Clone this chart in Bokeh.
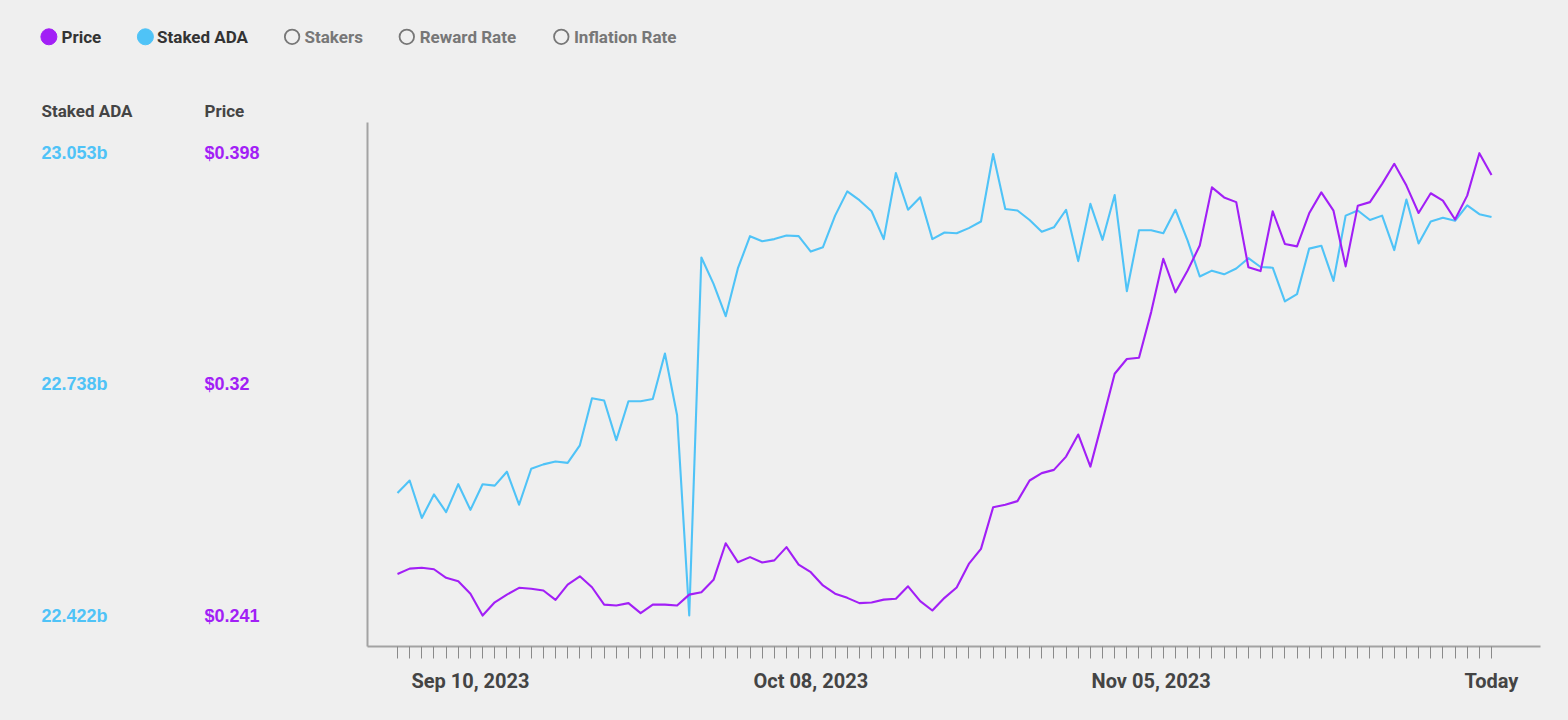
import pandas as pd
from bokeh.plotting import figure
from bokeh.models import Range1d, FixedTicker, Label, LinearAxis
from bokeh.embed import file_html
from bokeh.resources import INLINE

# ---------------- data ----------------
dates = [d.strftime("%Y-%m-%d") for d in pd.date_range("2023-09-04", "2023-12-03", freq="D")]

staked_ada = [  # billions ADA
    22.589, 22.606, 22.555, 22.587, 22.563, 22.601, 22.566, 22.601, 22.599, 22.618,
    22.573, 22.622, 22.628, 22.632, 22.630, 22.654, 22.718, 22.715, 22.661, 22.714,
    22.714, 22.717, 22.779, 22.695, 22.422, 22.910, 22.874, 22.830, 22.895, 22.939,
    22.932, 22.935, 22.940, 22.939, 22.918, 22.924, 22.967, 23.000, 22.988, 22.973,
    22.935, 23.025, 22.975, 22.992, 22.935, 22.944, 22.943, 22.950, 22.959, 23.051,
    22.976, 22.974, 22.961, 22.945, 22.951, 22.975, 22.905, 22.983, 22.934, 22.995,
    22.864, 22.947, 22.947, 22.943, 22.975, 22.933, 22.884, 22.892, 22.887, 22.895,
    22.909, 22.897, 22.896, 22.850, 22.860, 22.922, 22.926, 22.878, 22.967, 22.974,
    22.961, 22.967, 22.920, 22.989, 22.929, 22.959, 22.964, 22.960, 22.981, 22.969,
    22.965,
]

price = [  # USD
    0.2551, 0.2569, 0.2572, 0.2567, 0.2538, 0.2526, 0.2484, 0.2410, 0.2455, 0.2481,
    0.2504, 0.2501, 0.2495, 0.2463, 0.2515, 0.2543, 0.2506, 0.2447, 0.2444, 0.2452,
    0.2418, 0.2447, 0.2447, 0.2444, 0.2481, 0.2489, 0.2531, 0.2655, 0.2591, 0.2608,
    0.2590, 0.2597, 0.2642, 0.2583, 0.2557, 0.2512, 0.2484, 0.2470, 0.2452, 0.2454,
    0.2464, 0.2467, 0.2509, 0.2459, 0.2427, 0.2470, 0.2505, 0.2585, 0.2636, 0.2777,
    0.2786, 0.2798, 0.2868, 0.2893, 0.2904, 0.2949, 0.3024, 0.2915, 0.3071, 0.3230,
    0.3280, 0.3284, 0.3439, 0.3620, 0.3506, 0.3580, 0.3665, 0.3862, 0.3828, 0.3812,
    0.3591, 0.3578, 0.3781, 0.3670, 0.3662, 0.3774, 0.3845, 0.3783, 0.3594, 0.3800,
    0.3812, 0.3874, 0.3942, 0.3868, 0.3775, 0.3842, 0.3817, 0.3753, 0.3834, 0.3978,
    0.3904,
]

x_label_dates = {"2023-09-10": "Sep 10, 2023", "2023-10-08": "Oct 08, 2023",
                 "2023-11-05": "Nov 05, 2023", "2023-12-03": "Today"}

staked_ticks = [22.422, 22.7375, 23.053]
staked_tick_labels = ["22.422b", "22.738b", "23.053b"]
price_ticks = [0.241, 0.3195, 0.398]
price_tick_labels = ["$0.241", "$0.32", "$0.398"]

legend_names = ["Price", "Staked ADA", "Stakers", "Reward Rate", "Inflation Rate"]
legend_active = [True, True, False, False, False]

# ---------------- style / layout ----------------
BG = "#efefef"
PURPLE = "#a21ff6"
BLUE = "#4fc3f7"
AXIS = "#a3a3a3"
DARK = "#333333"
GRAYTXT = "#777777"
legend_colors = [PURPLE, BLUE, None, None, None]

CW, CH = 1568, 720                       # canvas
CH_L, CH_R, CH_T, CH_B = 367, 1540, 122, 646   # chart area in canvas px
X0, X1 = -2.468, 94.03                   # day index at chart left / right
Y0, Y1 = 22.3798, 23.0939                # staked ADA at chart bottom / top
P0, P1 = 0.2305, 0.4082                  # price at chart bottom / top

sx = (X1 - X0) / (CH_R - CH_L)
sy = (Y1 - Y0) / (CH_B - CH_T)
sp = (P1 - P0) / (CH_B - CH_T)

def fx(px):   # canvas x -> data x
    return X0 + (px - CH_L) * sx

def fy(py):   # canvas y -> staked-axis value
    return Y1 - (py - CH_T) * sy

idx = list(range(len(dates)))

p = figure(width=CW, height=CH,
           x_range=Range1d(fx(0), fx(CW)), y_range=Range1d(fy(CH), fy(0)),
           x_axis_type=None, y_axis_type=None,
           output_backend="svg", toolbar_location=None, min_border=0,
           background_fill_color=BG, border_fill_color=BG, outline_line_color=None)
p.extra_y_ranges = {"price": Range1d(P0 - (CH - CH_B) * sp, P1 + CH_T * sp)}

# x axis: a tick every day, four labelled dates
xa = LinearAxis(fixed_location=Y0, bounds=(X0, X1), ticker=FixedTicker(ticks=idx))
xa.major_label_overrides = {i: x_label_dates.get(d, "") for i, d in zip(idx, dates)}
xa.axis_line_color = AXIS
xa.axis_line_width = 2
xa.major_tick_line_color = "#8a8a8a"
xa.major_tick_line_width = 1
xa.major_tick_in = 0
xa.major_tick_out = 12
xa.minor_tick_line_color = None
xa.major_label_standoff = 10
xa.major_label_text_font = "Roboto"
xa.major_label_text_font_style = "bold"
xa.major_label_text_font_size = "20px"
xa.major_label_text_color = "#444444"
p.add_layout(xa, "below")

ya = LinearAxis(fixed_location=X0, bounds=(Y0, Y1), ticker=FixedTicker(ticks=[]))
ya.axis_line_color = AXIS
ya.axis_line_width = 2
ya.major_tick_line_color = None
ya.minor_tick_line_color = None
p.add_layout(ya, "left")

p.line(idx, staked_ada, line_color=BLUE, line_width=2.1, line_join="round")
p.line(idx, price, line_color=PURPLE, line_width=2.1, line_join="round", y_range_name="price")

# legend row
leg_marker_x = [48.4, 144.9, 291.6, 406.3, 560.8]
leg_text_x = [61, 156.6, 304, 419.2, 573.4]
for name, active, col, mx, tx in zip(legend_names, legend_active, legend_colors, leg_marker_x, leg_text_x):
    if active:
        p.scatter([fx(mx)], [fy(36.3)], size=16, fill_color=col, line_color=col, line_width=1)
    else:
        p.scatter([fx(mx)], [fy(36.3)], size=14.5, fill_color=None, line_color=GRAYTXT, line_width=1.8)
    p.add_layout(Label(x=fx(tx), y=fy(36.5), text=name, text_font="Roboto",
                       text_font_style="bold", text_font_size="17px",
                       text_color=DARK if active else GRAYTXT,
                       text_align="left", text_baseline="middle"))

# left-hand value columns
COL1, COL2 = fx(41), fx(204)
for txt, cx in (("Staked ADA", COL1), ("Price", COL2)):
    p.add_layout(Label(x=cx, y=fy(110.5), text=txt, text_font="Roboto",
                       text_font_style="bold", text_font_size="17px", text_color="#444444",
                       text_align="left", text_baseline="middle"))
for v, t in zip(staked_ticks, staked_tick_labels):
    p.add_layout(Label(x=COL1, y=v, text=t, text_font="Liberation Sans",
                       text_font_style="bold", text_font_size="18px", text_color=BLUE,
                       text_align="left", text_baseline="middle"))
for v, t in zip(price_ticks, price_tick_labels):
    p.add_layout(Label(x=COL2, y=v, y_range_name="price", text=t,
                       text_font="Liberation Sans", text_font_style="bold",
                       text_font_size="18px", text_color=PURPLE,
                       text_align="left", text_baseline="middle"))

html = file_html(p, INLINE, title="ADA staking chart")
html = html.replace("<head>", "<head><style>html,body{background:#efefef;}</style>", 1)
open("out.html", "w").write(html)
